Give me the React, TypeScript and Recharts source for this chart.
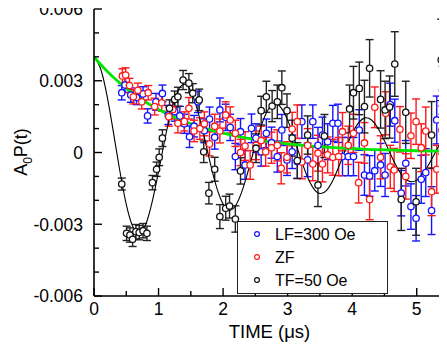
import React from 'react';
import { ComposedChart, Scatter, Line, XAxis, YAxis, ErrorBar, Legend } from 'recharts';

const FONT = "'Liberation Sans', Arial, Helvetica, sans-serif";

const xTicks = [0, 0.5, 1, 1.5, 2, 2.5, 3, 3.5, 4, 4.5, 5];
const yTicks = [-0.006, -0.005, -0.004, -0.003, -0.002, -0.001, 0, 0.001, 0.002, 0.003, 0.004, 0.005, 0.006];

const seriesNames = ['LF=300 Oe', 'ZF', 'TF=50 Oe'];
const seriesColors = ['#1414ff', '#ff1a1a', '#111111'];

// [time (us), asymmetry, error]
const lfPoints: number[][] = [
  [0.43, 0.0025, 0.0003], [0.48, 0.00282, 0.0003], [0.57, 0.0024, 0.0003], [0.66, 0.0023, 0.0003],
  [0.76, 0.00245, 0.0003], [0.83, 0.00153, 0.0003], [0.96, 0.00212, 0.00035], [1.06, 0.00247, 0.00035],
  [1.15, 0.00157, 0.0004], [1.25, 0.00171, 0.0004], [1.33, 0.00153, 0.0004], [1.40, 0.0012, 0.0004],
  [1.48, 0.00066, 0.00045], [1.55, 0.0011, 0.00045], [1.61, 0.00212, 0.00045], [1.71, 0.00091, 0.0005],
  [1.79, 0.0014, 0.0005], [1.87, 0.00064, 0.0005], [1.95, 0.00178, 0.0005], [2.04, 0.00147, 0.00055],
  [2.11, 0.00105, 0.00055], [2.19, -0.00017, 0.00055], [2.27, 0.00087, 0.00055], [2.34, -0.00052, 0.0006],
  [2.44, 0.00101, 0.0006], [2.51, 0.0006, 0.0006], [2.59, 0.00003, 0.0006], [2.67, 0.0008, 0.0006],
  [2.75, 0.00041, 0.00065], [2.84, -0.00017, 0.00065], [2.91, 0.00094, 0.00065], [2.99, -0.00031, 0.00065],
  [3.07, 0.00003, 0.0007], [3.15, -0.00038, 0.0007], [3.22, 0.00129, 0.0007], [3.31, -0.00031, 0.0007],
  [3.39, 0.00129, 0.0007], [3.47, 0.0003, 0.00075], [3.54, 0.00073, 0.00075], [3.62, 0.00045, 0.00075],
  [3.70, 0.00122, 0.00075], [3.78, 0.00122, 0.0008], [3.85, -0.00017, 0.0008], [3.94, -0.00017, 0.0008],
  [4.02, -0.00017, 0.0008], [4.11, 0.00094, 0.00085], [4.19, -0.00094, 0.00085], [4.27, -0.00098, 0.00085],
  [4.35, -0.00076, 0.00085], [4.44, -0.00052, 0.0009], [4.51, -0.00094, 0.0009], [4.59, 0.0020, 0.0009],
  [4.66, 0.00133, 0.0009], [4.76, -0.0017, 0.00095], [4.83, -0.00045, 0.00095], [4.91, -0.00226, 0.00095],
  [4.99, -0.00275, 0.00095], [5.07, -0.00112, 0.001], [5.14, -0.00084, 0.001], [5.23, -0.00243, 0.001],
  [5.31, 0.00136, 0.001], [5.40, 0.0026, 0.001],
];

const zfPoints: number[][] = [
  [0.44, 0.0032, 0.0003], [0.49, 0.00324, 0.0003], [0.55, 0.0028, 0.0003], [0.61, 0.00233, 0.0003],
  [0.68, 0.0026, 0.0003], [0.74, 0.00212, 0.0003], [0.84, 0.0025, 0.0003], [0.94, 0.00192, 0.00035],
  [1.05, 0.00208, 0.00035], [1.16, 0.0015, 0.0004], [1.22, 0.0018, 0.0004], [1.30, 0.00122, 0.0004],
  [1.40, 0.0013, 0.0004], [1.47, 0.00185, 0.00045], [1.55, 0.0009, 0.00045], [1.64, 0.001, 0.00045],
  [1.71, 0.0012, 0.0005], [1.79, 0.00036, 0.0005], [1.87, 0.0011, 0.0005], [1.95, 0.0009, 0.0005],
  [2.04, 0.00157, 0.00055], [2.11, 0.00136, 0.00055], [2.19, 0.0008, 0.00055], [2.27, 0, 0.00055],
  [2.34, 0.00027, 0.0006], [2.42, -0.00052, 0.0006], [2.51, 0.0003, 0.0006], [2.59, 0.0005, 0.0006],
  [2.66, 0.00003, 0.0006], [2.75, 0.0002, 0.00065], [2.84, 0.0003, 0.00065], [2.90, -0.00066, 0.00065],
  [2.99, -0.0002, 0.00065], [3.07, 0.00098, 0.0007], [3.15, 0.00129, 0.0007], [3.22, -0.0004, 0.0007],
  [3.31, 0.0003, 0.0007], [3.39, -0.00048, 0.0007], [3.47, -0.00003, 0.00075], [3.54, -0.00048, 0.00075],
  [3.62, -0.0001, 0.00075], [3.70, -0.0002, 0.00075], [3.79, -0.00017, 0.0008], [3.85, 0.00087, 0.0008],
  [3.94, 0.0003, 0.0008], [4.02, 0.0008, 0.0008], [4.10, -0.00126, 0.00085], [4.19, 0.0004, 0.00085],
  [4.27, -0.00196, 0.00085], [4.35, 0.00189, 0.00085], [4.44, -0.0002, 0.0009], [4.52, 0.00164, 0.0009],
  [4.59, -0.0006, 0.0009], [4.65, -0.00073, 0.0009], [4.74, 0.00097, 0.00095], [4.83, -0.001, 0.00095],
  [4.91, 0.0007, 0.00095], [4.99, 0.00129, 0.00095], [5.07, 0.0002, 0.001], [5.14, 0.0009, 0.001],
  [5.23, -0.00164, 0.001], [5.31, -0.0007, 0.001], [5.39, 0.00094, 0.001],
];

const tfPoints: number[][] = [
  [0.43, -0.00132, 0.00025], [0.505, -0.00338, 0.0003], [0.556, -0.00345, 0.0003], [0.598, -0.00363, 0.0003],
  [0.649, -0.00331, 0.0003], [0.70, -0.00335, 0.0003], [0.76, -0.00327, 0.0003], [0.82, -0.00338, 0.0003],
  [0.906, -0.00126, 0.0003], [0.97, -0.0007, 0.0003], [1.01, -0.0002, 0.00035], [1.06, 0.0006, 0.00035],
  [1.17, 0.00185, 0.00035], [1.25, 0.00222, 0.00035], [1.30, 0.00233, 0.0004], [1.38, 0.00303, 0.0004],
  [1.47, 0.0029, 0.0004], [1.53, 0.00248, 0.0004], [1.63, 0.0022, 0.00045], [1.70, 0.00003, 0.00045],
  [1.78, -0.0017, 0.00045], [1.87, -0.0007, 0.0005], [1.95, -0.00268, 0.0005], [2.04, -0.00233, 0.0005],
  [2.10, -0.00224, 0.0005], [2.19, -0.00278, 0.00055], [2.27, -0.00077, 0.00055], [2.51, 0.00018, 0.0006],
  [2.59, 0.00175, 0.0006], [2.67, 0.00233, 0.00065], [2.76, 0.00194, 0.00065], [2.84, 0.00212, 0.0007],
  [2.91, 0.00271, 0.0007], [2.99, 0.00175, 0.0007], [3.07, 0.0006, 0.00075], [3.15, -0.00034, 0.00075],
  [3.31, 0.00073, 0.0008], [3.47, -0.00136, 0.0009], [3.57, 0.00069, 0.0009], [3.96, 0.00182, 0.001],
  [4.02, 0.0025, 0.0011], [4.11, 0.00268, 0.0011], [4.19, 0.00192, 0.0011], [4.27, 0.00352, 0.0012],
  [4.44, 0.00222, 0.0012], [4.51, 0.00178, 0.0012], [4.58, 0.0019, 0.0013], [4.66, 0.0037, 0.00135],
  [4.76, -0.00196, 0.0013], [4.83, 0.00168, 0.0013], [4.99, -0.00206, 0.0014], [5.23, 0.00073, 0.0014],
  [5.38, 0.00387, 0.0017], [5.44, -0.0017, 0.0015],
];

// TF=50 Oe fit curve
const tfFitT = [0, 0.1, 0.2, 0.3, 0.4, 0.5, 0.6, 0.7, 0.8, 0.9, 1.0, 1.1, 1.2, 1.3, 1.4, 1.5, 1.6, 1.7, 1.8, 1.9,
  2.0, 2.1, 2.2, 2.3, 2.4, 2.5, 2.6, 2.7, 2.8, 2.9, 3.0, 3.1, 3.2, 3.3, 3.4, 3.5, 3.6, 3.7, 3.8, 3.9,
  4.0, 4.1, 4.2, 4.3, 4.4, 4.5, 4.6, 4.7, 4.8, 4.9, 5.0, 5.1, 5.2, 5.3, 5.4, 5.5];
const tfFitV = [0.004, 0.003524, 0.002395, 0.000862, -0.000762, -0.002164, -0.003088, -0.003381, -0.003021, -0.002077,
  -0.000799, 0.000575, 0.001772, 0.002576, 0.002855, 0.002569, 0.001805, 0.000731, -0.000431, -0.001458,
  -0.002156, -0.002409, -0.002192, -0.001563, -0.000667, 0.000317, 0.001188, 0.001796, 0.002033, 0.001869,
  0.001354, 0.000604, -0.000226, -0.000975, -0.0015, -0.001712, -0.00159, -0.001168, -0.000545, 0.000156,
  0.000791, 0.00125, 0.001447, 0.001357, 0.001011, 0.000488, -0.000102, -0.000648, -0.001043, -0.001219,
  -0.001154, -0.000871, -0.000438, 0.000061, 0.000523, 0.000868];

// relaxation curve (green)
const relaxT = [0, 0.1, 0.2, 0.3, 0.4, 0.5, 0.6, 0.7, 0.8, 0.9, 1.0, 1.2, 1.4, 1.6, 1.8, 2.0, 2.25, 2.5, 2.75, 3.0,
  3.5, 4.0, 4.5, 5.0, 5.5];
const relaxV = [0.004, 0.003692, 0.003408, 0.003146, 0.002904, 0.002681, 0.002475, 0.002285, 0.002109, 0.001947,
  0.001797, 0.001532, 0.001305, 0.001112, 0.000948, 0.000808, 0.000661, 0.000541, 0.000443, 0.000363,
  0.000243, 0.000163, 0.000109, 0.000073, 0.000049];

const toRows = (pts: number[][]) => pts.map(([t, v, e]) => ({ t, v, e }));
const lfData = toRows(lfPoints);
const zfData = toRows(zfPoints);
const tfData = toRows(tfPoints);
const tfFit = tfFitT.map((t, i) => ({ t, v: tfFitV[i] }));
const relax = relaxT.map((t, i) => ({ t, v: relaxV[i] }));

const isMajorX = (v: number) => Math.abs(v - Math.round(v)) < 1e-6;
const isMajorY = (v: number) => Math.abs(v / 0.003 - Math.round(v / 0.003)) < 1e-6;
const fmtY = (v: number) => (Math.abs(v) < 1e-9 ? '0' : v.toFixed(3));

const BottomTick = (props: any) => {
  const { x, y, payload } = props;
  const major = isMajorX(payload.value);
  return (
    <g>
      <line x1={x} x2={x} y1={y} y2={y - (major ? 8 : 5)} stroke="#000" strokeWidth={1.4} />
      {major && (
        <text x={x} y={y + 19} textAnchor="middle" fontSize={17.5} fontFamily={FONT} fill="#000">
          {payload.value}
        </text>
      )}
    </g>
  );
};

const TopTick = (props: any) => {
  const { x, y, payload } = props;
  const major = isMajorX(payload.value);
  return <line x1={x} x2={x} y1={y} y2={y + (major ? 8 : 5)} stroke="#000" strokeWidth={1.4} />;
};

const LeftTick = (props: any) => {
  const { x, y, payload } = props;
  const major = isMajorY(payload.value);
  return (
    <g>
      <line x1={x} x2={x + (major ? 8 : 5)} y1={y} y2={y} stroke="#000" strokeWidth={1.4} />
      {major && (
        <text x={x - 11} y={y} dy="0.36em" textAnchor="end" fontSize={17.5} fontFamily={FONT} fill="#000">
          {fmtY(payload.value)}
        </text>
      )}
    </g>
  );
};

const RightTick = (props: any) => {
  const { x, y, payload } = props;
  const major = isMajorY(payload.value);
  return <line x1={x} x2={x - (major ? 10 : 6)} y1={y} y2={y} stroke="#000" strokeWidth={1.4} />;
};

const makeDot = (color: string) => (props: any) => {
  const { cx, cy } = props;
  if (cx == null || cy == null) return <g />;
  return <circle cx={cx} cy={cy} r={3.2} fill="#fff" stroke={color} strokeWidth={1.3} />;
};

const TimeLabel = (props: any) => {
  const vb = props.viewBox || { x: 94, y: 296, width: 355, height: 57 };
  return (
    <text x={vb.x + vb.width / 2 - 2} y={vb.y + 42} textAnchor="middle" fontSize={18.5} fontFamily={FONT} fill="#000">
      TIME (μs)
    </text>
  );
};

const AsymLabel = () => (
  <text transform="rotate(-90, 27, 152)" x={27} y={152} textAnchor="middle" fontSize={18} fontFamily={FONT} fill="#000">
    A<tspan fontSize={12} dy={5}>0</tspan>
    <tspan dy={-5}>P(t)</tspan>
  </text>
);

const SampleLabel = () => (
  <text x={137} y={57} fontSize={19} fontFamily={FONT} fill="#000">
    MgF<tspan fontSize={13} dy={5}>2</tspan>
  </text>
);

const LegendBox = () => (
  <div
    style={{
      width: 151,
      height: 73,
      boxSizing: 'border-box',
      border: '1.5px solid #222',
      background: '#fff',
      position: 'relative',
      fontFamily: FONT,
      fontSize: 16,
      color: '#000',
    }}
  >
    {seriesNames.map((name, i) => (
      <div key={name} style={{ position: 'absolute', left: 0, top: 3 + i * 23, height: 20, width: 149 }}>
        <svg width={10} height={10} style={{ position: 'absolute', left: 14, top: 4 }}>
          <circle cx={5} cy={5} r={2.4} fill="#fff" stroke={seriesColors[i]} strokeWidth={1.2} />
        </svg>
        <span style={{ position: 'absolute', left: 37, top: 0, lineHeight: '19px', whiteSpace: 'nowrap' }}>{name}</span>
      </div>
    ))}
  </div>
);

export default function App() {
  return (
    <div style={{ width: 447, height: 353, overflow: 'hidden', position: 'relative', marginTop: -8, marginLeft: -8 }}>
      <ComposedChart width={453} height={353} margin={{ top: 9, right: 4, bottom: 0, left: 0 }}>
        <XAxis
          xAxisId="b"
          dataKey="t"
          type="number"
          domain={[0, 5.5]}
          allowDataOverflow
          ticks={xTicks}
          interval={0}
          tickSize={0}
          tickMargin={0}
          tick={<BottomTick />}
          axisLine={{ stroke: '#000', strokeWidth: 1.6 }}
          tickLine={false}
          height={57}
          label={<TimeLabel />}
        />
        <XAxis
          xAxisId="top"
          orientation="top"
          dataKey="t"
          type="number"
          domain={[0, 5.5]}
          allowDataOverflow
          ticks={xTicks}
          interval={0}
          tickSize={0}
          tickMargin={0}
          tick={<TopTick />}
          axisLine={{ stroke: '#000', strokeWidth: 1.6 }}
          tickLine={false}
          height={0}
          label={<SampleLabel />}
        />
        <YAxis
          yAxisId="l"
          type="number"
          domain={[-0.006, 0.006]}
          allowDataOverflow
          ticks={yTicks}
          interval={0}
          tickSize={0}
          tickMargin={0}
          tick={<LeftTick />}
          axisLine={{ stroke: '#000', strokeWidth: 1.6 }}
          tickLine={false}
          width={94}
          label={<AsymLabel />}
        />
        <YAxis
          yAxisId="r"
          orientation="right"
          type="number"
          domain={[-0.006, 0.006]}
          allowDataOverflow
          ticks={yTicks}
          interval={0}
          tickSize={0}
          tickMargin={0}
          tick={<RightTick />}
          axisLine={{ stroke: '#000', strokeWidth: 1.6 }}
          tickLine={false}
          width={0}
        />
        <Scatter
          name={seriesNames[0]}
          xAxisId="b"
          yAxisId="l"
          data={lfData}
          dataKey="v"
          fill={seriesColors[0]}
          shape={makeDot(seriesColors[0])}
          isAnimationActive={false}
        >
          <ErrorBar dataKey="e" direction="y" width={4} stroke={seriesColors[0]} strokeWidth={1.4} isAnimationActive={false} />
        </Scatter>
        <Scatter
          name={seriesNames[1]}
          xAxisId="b"
          yAxisId="l"
          data={zfData}
          dataKey="v"
          fill={seriesColors[1]}
          shape={makeDot(seriesColors[1])}
          isAnimationActive={false}
        >
          <ErrorBar dataKey="e" direction="y" width={4} stroke={seriesColors[1]} strokeWidth={1.4} isAnimationActive={false} />
        </Scatter>
        <Scatter
          name={seriesNames[2]}
          xAxisId="b"
          yAxisId="l"
          data={tfData}
          dataKey="v"
          fill={seriesColors[2]}
          shape={makeDot(seriesColors[2])}
          isAnimationActive={false}
        >
          <ErrorBar dataKey="e" direction="y" width={4} stroke="#222" strokeWidth={1.4} isAnimationActive={false} />
        </Scatter>
        <Line
          xAxisId="b"
          yAxisId="l"
          data={tfFit}
          dataKey="v"
          type="natural"
          stroke="#000"
          strokeWidth={1.1}
          dot={false}
          activeDot={false}
          legendType="none"
          isAnimationActive={false}
        />
        <Line
          xAxisId="b"
          yAxisId="l"
          data={relax}
          dataKey="v"
          type="monotone"
          stroke="#00e600"
          strokeWidth={2.8}
          dot={false}
          activeDot={false}
          legendType="none"
          isAnimationActive={false}
        />
        <Legend
          layout="vertical"
          align="center"
          verticalAlign="middle"
          content={<LegendBox />}
          wrapperStyle={{ left: 237, top: 221, width: 151, height: 73 }}
        />
      </ComposedChart>
    </div>
  );
}
